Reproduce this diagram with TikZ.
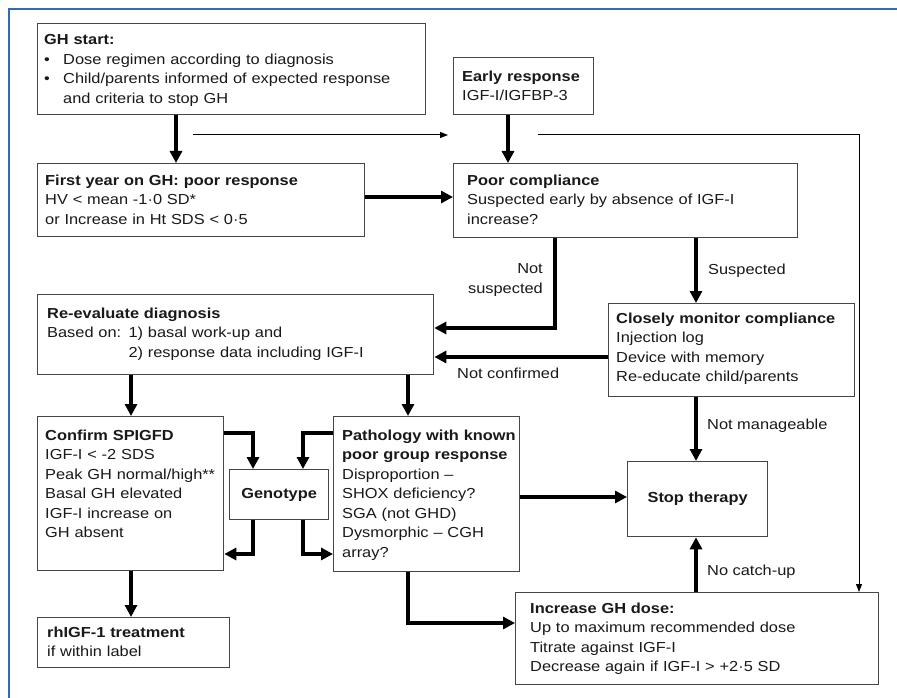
\documentclass[tikz,border=0pt]{standalone}
\usepackage{fontspec}
\setmainfont{Liberation Sans}[FakeStretch=1.13]
\usetikzlibrary{arrows.meta}
\newcommand\dfont{\fontsize{14.5}{19.5}\selectfont}
\definecolor{framecol}{RGB}{47,108,180}
\definecolor{boxcol}{RGB}{70,70,70}
\definecolor{txtcol}{RGB}{25,25,25}
\begin{document}
\begin{tikzpicture}[x=1pt,y=-1pt,
  box/.style={draw=boxcol, line width=1.3pt, inner sep=0pt, anchor=north west, text=txtcol},
  txt/.style={anchor=north west, inner sep=0pt, text width=380pt, align=left, font=\dfont, text=txtcol},
  lbl/.style={inner sep=0pt, font=\dfont, text=txtcol},
  thk/.style={line width=4pt, -{Triangle[length=12pt,width=12pt]}},
  thn/.style={line width=1pt, -{Triangle[length=8pt,width=6pt]}},
  frame/.style={draw=framecol, line width=1.5pt}]
\useasboundingbox[fill=white] (0,0) rectangle (897,698);
\draw[frame] (897,9) -- (9,9) -- (9,698);

% boxes
\node[box, minimum width=388pt, minimum height=91pt] (gh) at (37,23) {};
\node[box, minimum width=140pt, minimum height=57pt] (er) at (453,57) {};
\node[box, minimum width=327pt, minimum height=73pt] (fy) at (37,163) {};
\node[box, minimum width=344pt, minimum height=74pt] (pc) at (453,163) {};
\node[box, minimum width=396pt, minimum height=80pt] (re) at (37,294) {};
\node[box, minimum width=246pt, minimum height=93pt] (cm) at (608,303) {};
\node[box, minimum width=186pt, minimum height=154pt] (cf) at (37,416) {};
\node[box, minimum width=186pt, minimum height=155pt] (pa) at (333,416) {};
\node[box, minimum width=99pt, minimum height=50pt, font=\dfont\bfseries] (ge) at (229,469) {Genotype};
\node[box, minimum width=140pt, minimum height=75pt, font=\dfont\bfseries] (st) at (627,461) {Stop therapy};
\node[box, minimum width=192pt, minimum height=50pt] (rh) at (37,617) {};
\node[box, minimum width=363pt, minimum height=92pt] (incr) at (515,592) {};

% texts
\node[txt] (ght) at (44,34.5) {\textbf{GH start:}\\
\makebox[19pt][l]{•}Dose regimen according to diagnosis\\
\makebox[19pt][l]{•}Child/parents informed of expected response\\
\hspace*{19pt}and criteria to stop GH};
\node[txt] (ert) at (462,70.5) {\textbf{Early response}\\IGF-I/IGFBP-3};
\node[txt] (fyt) at (45,174.5) {\textbf{First year on GH: poor response}\\
HV < mean -1·0 SD*\\or Increase in Ht SDS < 0·5};
\node[txt] (pct) at (467,174.5) {\textbf{Poor compliance}\\
Suspected early by absence of IGF-I\\increase?};
\node[txt] (ret) at (47,307.5) {\textbf{Re-evaluate diagnosis}\\
Based on: 1) basal work-up and\\
\phantom{Based on: }2) response data including IGF-I};
\node[txt] (cmt) at (616,312.5) {\textbf{Closely monitor compliance}\\
Injection log\\Device with memory\\Re-educate child/parents};
\node[txt] (cft) at (45,429.5) {\textbf{Confirm SPIGFD}\\
IGF-I < -2 SDS\\Peak GH normal/high**\\Basal GH elevated\\IGF-I increase on\\GH absent};
\node[txt] (pat) at (342,429.5) {\textbf{Pathology with known}\\\textbf{poor group response}\\
Disproportion –\\SHOX deficiency?\\SGA (not GHD)\\Dysmorphic – CGH\\array?};
\node[txt] (rht) at (47,626.5) {\textbf{rhIGF-1 treatment}\\if within label};
\node[txt] (inct) at (530,602.5) {\textbf{Increase GH dose:}\\
Up to maximum recommended dose\\Titrate against IGF-I\\Decrease again if IGF-I > +2·5 SD};

% labels
\node[lbl, anchor=north east, align=right] (lns) at (543,263.5) {Not\\suspected};
\node[lbl, anchor=north west] (lsu) at (708,263.5) {Suspected};
\node[lbl, anchor=north west] (lnc) at (457,367.5) {Not confirmed};
\node[lbl, anchor=north west] (lnm) at (707,418.5) {Not manageable};
\node[lbl, anchor=north west] (lcu) at (707,564.5) {No catch-up};

% columns / rows
\coordinate (x131) at (131,0);
\coordinate (x176) at (176,0);
\coordinate (x253) at (253,0);
\coordinate (x303) at (303,0);
\coordinate (x408) at (408,0);
\coordinate (x508) at (508,0);
\coordinate (x555) at (555,0);
\coordinate (x696) at (696,0);
\coordinate (x859) at (859,0);
\coordinate (y197) at (0,197);
\coordinate (y328) at (0,328);
\coordinate (y357) at (0,357);
\coordinate (y433) at (0,433);
\coordinate (y497) at (0,497);
\coordinate (y554) at (0,554);
\coordinate (y623) at (0,623);
\coordinate (t1s) at (193,135);
\coordinate (t1e) at (448,135);
\coordinate (t2s) at (538,135);

% connectors
\draw[thk] (gh.south -| x176) -- (fy.north -| x176);
\draw[thn] (t1s) -- (t1e);
\draw[thk] (er.south -| x508) -- (pc.north -| x508);
\draw[thn] (t2s) -| (incr.north -| x859);
\draw[thk] (fy.east |- y197) -- (pc.west |- y197);
\draw[thk] (pc.south -| x555) |- (re.east |- y328);
\draw[thk] (pc.south -| x696) -- (cm.north -| x696);
\draw[thk] (cm.west |- y357) -- (re.east |- y357);
\draw[thk] (cm.south -| x696) -- (st.north -| x696);
\draw[thk] (re.south -| x131) -- (cf.north -| x131);
\draw[thk] (re.south -| x408) -- (pa.north -| x408);
\draw[thk] (cf.east |- y433) -| (ge.north -| x253);
\draw[thk] (pa.west |- y433) -| (ge.north -| x303);
\draw[thk] (ge.south -| x253) |- (cf.east |- y554);
\draw[thk] (ge.south -| x303) |- (pa.west |- y554);
\draw[thk] (pa.east |- y497) -- (st.west |- y497);
\draw[thk] (pa.south -| x408) |- (incr.west |- y623);
\draw[thk] (cf.south -| x131) -- (rh.north -| x131);
\draw[thk] (incr.north -| x696) -- (st.south -| x696);
\end{tikzpicture}
\end{document}
